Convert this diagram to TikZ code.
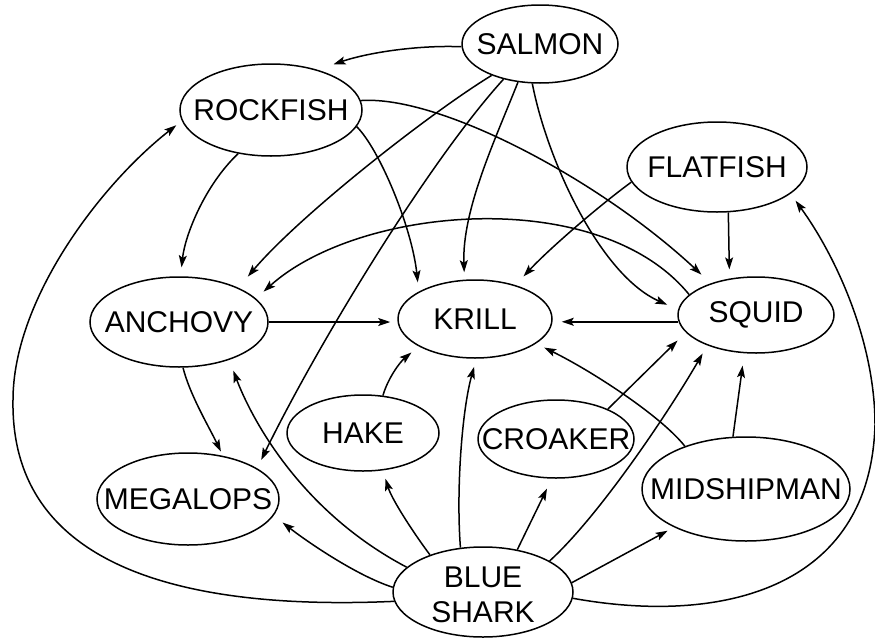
\documentclass[tikz,border=0pt]{standalone}
\usepackage{fontspec}
\setmainfont{Liberation Sans}
\usetikzlibrary{shapes.geometric,arrows.meta}
\newcommand\lb[1]{\makebox[0pt]{#1}}
\begin{document}
\begin{tikzpicture}[x=1pt,y=-1pt,
  sp/.style={ellipse,draw,line width=1.5pt,inner sep=0pt,font=\fontsize{30}{35}\selectfont},
  ed/.style={line width=1.5pt,-{Stealth[length=12pt,width=8pt,inset=2.5pt]}}]
\useasboundingbox (0,0) rectangle (875,640);
\fill[white] (0,0) rectangle (875,640);
% nodes
\node[sp,minimum width=156pt,minimum height=78pt] (SA) at (540,44) {\lb{SALMON}};
\node[sp,minimum width=182pt,minimum height=92pt] (RO) at (271,110) {\lb{ROCKFISH}};
\node[sp,minimum width=180pt,minimum height=90pt] (FL) at (717,167) {\lb{FLATFISH}};
\node[sp,minimum width=178pt,minimum height=90pt] (AN) at (179,322) {\lb{ANCHOVY}};
\node[sp,minimum width=154pt,minimum height=78pt] (KR) at (475,319) {\lb{KRILL}};
\node[sp,minimum width=156pt,minimum height=76pt] (SQ) at (756,315) {\lb{SQUID}};
\node[sp,minimum width=152pt,minimum height=76pt] (HA) at (363,433) {\lb{HAKE}};
\node[sp,minimum width=156pt,minimum height=78pt] (CR) at (556,439) {\lb{CROAKER}};
\node[sp,minimum width=182pt,minimum height=92pt] (ME) at (188,499) {\lb{MEGALOPS}};
\node[sp,minimum width=208pt,minimum height=104pt] (MI) at (746,489) {\lb{MIDSHIPMAN}};
\node[sp,minimum width=180pt,minimum height=90pt] (BS) at (483,592) {\lb{\smash{\raisebox{5pt}{\begin{tabular}[t]{@{}c@{}}BLUE\\SHARK\end{tabular}}}}};
% salmon
\draw[ed,shorten >=17pt] (SA.182) .. controls (420,45) and (370,52) .. (RO.41);
\draw[ed,shorten >=14.6pt] (SA.213) .. controls (430,113) and (300,215) .. (AN.30);
\draw[ed,shorten >=9.4pt] (SA.224) .. controls (430,160) and (320,340) .. (ME.24);
\draw[ed,shorten >=7.4pt] (SA.240) .. controls (495,140) and (462,210) .. (KR.105);
\draw[ed,shorten >=11.8pt] (SA.259) .. controls (547,160) and (600,275) .. (SQ.176);
% rockfish
\draw[ed,shorten >=9pt] (RO.233) .. controls (205,185) and (185,235) .. (AN.88);
\draw[ed,shorten >=9.3pt] (RO.349) .. controls (380,150) and (412,228) .. (KR.154);
\draw[ed,shorten >=12.8pt] (RO.6) .. controls (440,95) and (600,180) .. (SQ.145);
% flatfish
\draw[ed,shorten >=11.8pt] (FL.190) .. controls (600,205) and (550,248) .. (KR.40);
\draw[ed,shorten >=9.1pt] (FL.284) -- (SQ.126);
% squid
\draw[ed,shorten >=10.2pt] (SQ.163) .. controls (600,185) and (360,205) .. (AN.17);
\draw[ed,shorten >=9pt] (SQ.185) -- (SQ.185 -| KR.east);
% anchovy
\draw[ed,shorten >=7pt] (AN.east) -- (AN.east -| KR.west);
\draw[ed,shorten >=4.8pt] (AN.275) .. controls (190,395) and (208,425) .. (ME.51);
% hake, croaker, midshipman
\draw[ed,shorten >=9.5pt] (HA.62) .. controls (388,378) and (400,362) .. (KR.206);
\draw[ed,shorten >=11.5pt] (CR.30) -- (SQ.194);
\draw[ed,shorten >=9pt] (MI.145) .. controls (660,415) and (590,370) .. (KR.338);
\draw[ed,shorten >=12.5pt] (MI.104) -- (SQ.253);
% blue shark
\draw[ed,shorten >=7pt] (BS.186) .. controls (200,610) and (10,575) .. (13,400) .. controls (13,300) and (100,185) .. (RO.187);
\draw[ed,shorten >=11.5pt] (BS.162) .. controls (298,510) and (250,415) .. (AN.323);
\draw[ed,shorten >=11.2pt] (BS.177) .. controls (355,575) and (305,540) .. (ME.349);
\draw[ed,shorten >=8.7pt] (BS.145) .. controls (415,535) and (392,500) .. (HA.298);
\draw[ed,shorten >=8.4pt] (BS.117) .. controls (456,490) and (462,410) .. (KR.272);
\draw[ed,shorten >=11.1pt] (BS.51) -- (CR.264);
\draw[ed,shorten >=9.3pt] (BS.25) .. controls (600,515) and (670,410) .. (SQ.212);
\draw[ed,shorten >=7.2pt] (BS.6) -- (MI.208);
\draw[ed,shorten >=8.5pt] (BS.356) .. controls (720,625) and (870,590) .. (875,425) .. controls (875,340) and (835,255) .. (FL.340);
\end{tikzpicture}
\end{document}
